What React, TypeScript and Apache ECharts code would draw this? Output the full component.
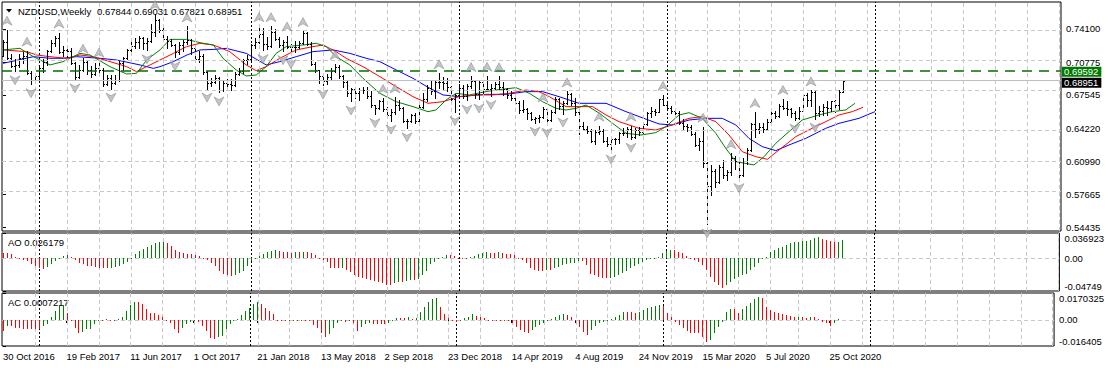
import React, { useEffect, useRef } from 'react';
import * as echarts from 'echarts';

// Weekly NZDUSD bars from 30 Oct 2016: [open, high, low, close]
const weeklyBars: number[][] = [
  [.7145,.7300,.7140,.7280],[.7280,.7403,.7110,.7120],[.7120,.7160,.7030,.7040],[.7040,.7110,.6990,.7050],
  [.7050,.7160,.7030,.7120],[.7120,.7180,.7070,.7140],[.7140,.7195,.6960,.6970],[.6970,.6990,.6862,.6900],
  [.6900,.6970,.6870,.6940],[.6940,.7030,.6890,.7020],[.7020,.7110,.6980,.7080],[.7080,.7200,.7050,.7190],
  [.7190,.7300,.7180,.7270],[.7270,.7340,.7240,.7320],[.7320,.7375,.7170,.7180],[.7180,.7240,.7140,.7200],
  [.7200,.7240,.7130,.7190],[.7190,.7220,.7060,.7070],[.7070,.7080,.6910,.6930],[.6930,.7050,.6920,.7000],
  [.7000,.7125,.6990,.7080],[.7080,.7100,.6960,.7000],[.7000,.7040,.6930,.6960],[.6960,.7070,.6950,.7020],
  [.7020,.7085,.6980,.7000],[.7000,.7020,.6840,.6860],[.6860,.6950,.6850,.6920],[.6920,.6950,.6818,.6870],
  [.6870,.6950,.6860,.6900],[.6900,.7090,.6890,.7070],[.7070,.7130,.7000,.7120],[.7120,.7210,.7110,.7200],
  [.7200,.7280,.7150,.7240],[.7240,.7320,.7220,.7280],[.7280,.7340,.7220,.7320],[.7320,.7330,.7210,.7270],
  [.7270,.7320,.7200,.7290],[.7290,.7460,.7280,.7380],[.7380,.7558,.7340,.7500],[.7500,.7510,.7380,.7400],
  [.7400,.7420,.7290,.7310],[.7310,.7340,.7220,.7290],[.7290,.7310,.7240,.7250],[.7250,.7260,.7130,.7180],
  [.7180,.7280,.7160,.7250],[.7250,.7300,.7190,.7280],[.7280,.7435,.7260,.7300],[.7300,.7310,.7160,.7220],
  [.7220,.7230,.7090,.7110],[.7110,.7190,.7080,.7140],[.7140,.7160,.6960,.6980],[.6980,.6990,.6818,.6870],
  [.6870,.6920,.6840,.6880],[.6880,.6950,.6870,.6920],[.6920,.6930,.6780,.6800],[.6800,.6900,.6790,.6870],
  [.6870,.6910,.6810,.6860],[.6860,.6910,.6800,.6850],[.6850,.6980,.6840,.6960],[.6960,.7020,.6950,.6990],
  [.6990,.7110,.6970,.7100],[.7100,.7150,.7060,.7110],[.7110,.7260,.7100,.7250],[.7250,.7320,.7220,.7280],
  [.7280,.7437,.7270,.7360],[.7360,.7420,.7200,.7260],[.7260,.7330,.7210,.7240],[.7240,.7438,.7230,.7380],
  [.7380,.7410,.7300,.7310],[.7310,.7330,.7230,.7250],[.7250,.7300,.7190,.7280],[.7280,.7345,.7220,.7230],
  [.7230,.7260,.7150,.7230],[.7230,.7290,.7180,.7230],[.7230,.7290,.7220,.7270],[.7270,.7390,.7260,.7370],
  [.7370,.7380,.7250,.7260],[.7260,.7280,.7050,.7060],[.7060,.7080,.6980,.7000],[.7000,.7000,.6870,.6940],
  [.6940,.6970,.6850,.6890],[.6890,.6960,.6860,.6930],[.6930,.7020,.6900,.6990],[.6990,.7060,.6980,.7030],
  [.7030,.7050,.6920,.6940],[.6940,.6950,.6830,.6880],[.6880,.6890,.6740,.6770],[.6770,.6820,.6690,.6810],
  [.6810,.6820,.6720,.6770],[.6770,.6820,.6700,.6800],[.6800,.6830,.6770,.6800],[.6800,.6830,.6720,.6740],
  [.6740,.6790,.6640,.6660],[.6660,.6660,.6565,.6630],[.6630,.6700,.6620,.6690],[.6690,.6725,.6600,.6620],
  [.6620,.6640,.6550,.6560],[.6560,.6620,.6500,.6590],[.6590,.6730,.6570,.6660],[.6660,.6700,.6610,.6630],
  [.6630,.6640,.6490,.6500],[.6500,.6520,.6424,.6500],[.6500,.6570,.6490,.6560],[.6560,.6580,.6480,.6500],
  [.6500,.6660,.6470,.6640],[.6640,.6770,.6630,.6710],[.6710,.6850,.6690,.6820],[.6820,.6890,.6760,.6790],
  [.6790,.6890,.6720,.6880],[.6880,.6970,.6820,.6880],[.6880,.6930,.6800,.6870],[.6870,.6920,.6790,.6830],
  [.6830,.6840,.6700,.6710],[.6710,.6760,.6585,.6750],[.6750,.6860,.6720,.6820],[.6820,.6850,.6720,.6740],
  [.6740,.6860,.6700,.6840],[.6840,.6942,.6820,.6890],[.6890,.6900,.6720,.6760],[.6760,.6890,.6710,.6880],
  [.6880,.6900,.6770,.6810],[.6810,.6945,.6800,.6810],[.6810,.6860,.6745,.6820],[.6820,.6880,.6800,.6860],
  [.6860,.6940,.6810,.6830],[.6830,.6880,.6750,.6810],[.6810,.6820,.6720,.6750],[.6750,.6790,.6700,.6720],
  [.6720,.6740,.6670,.6680],[.6680,.6690,.6580,.6610],[.6610,.6700,.6590,.6620],[.6620,.6630,.6520,.6580],
  [.6580,.6590,.6510,.6520],[.6520,.6540,.6480,.6530],[.6530,.6560,.6490,.6540],[.6540,.6640,.6530,.6620],
  [.6620,.6630,.6470,.6510],[.6510,.6610,.6500,.6590],[.6590,.6730,.6580,.6710],[.6710,.6720,.6620,.6650],
  [.6650,.6690,.6570,.6680],[.6680,.6790,.6670,.6760],[.6760,.6770,.6660,.6680],[.6680,.6720,.6560,.6590],
  [.6590,.6620,.6370,.6450],[.6450,.6490,.6410,.6420],[.6420,.6450,.6380,.6400],[.6400,.6420,.6290,.6300],
  [.6300,.6410,.6270,.6390],[.6390,.6450,.6370,.6400],[.6400,.6420,.6290,.6300],[.6300,.6340,.6250,.6270],
  [.6270,.6330,.6204,.6320],[.6320,.6330,.6270,.6320],[.6320,.6390,.6280,.6380],[.6380,.6430,.6360,.6380],
  [.6380,.6440,.6340,.6420],[.6420,.6450,.6320,.6340],[.6340,.6430,.6330,.6410],[.6410,.6440,.6360,.6390],
  [.6390,.6480,.6380,.6470],[.6470,.6590,.6460,.6580],[.6580,.6640,.6540,.6600],[.6600,.6620,.6560,.6590],
  [.6590,.6710,.6590,.6710],[.6710,.6756,.6660,.6660],[.6660,.6690,.6610,.6630],[.6630,.6650,.6580,.6600],
  [.6600,.6630,.6560,.6580],[.6580,.6600,.6470,.6480],[.6480,.6520,.6420,.6450],[.6450,.6470,.6400,.6440],
  [.6440,.6460,.6360,.6370],[.6370,.6390,.6250,.6260],[.6260,.6330,.6210,.6300],[.6300,.6440,.6040,.6080],
  [.6080,.6090,.5469,.5850],[.5850,.6060,.5760,.6000],[.6000,.6020,.5840,.5890],[.5890,.6060,.5880,.6040],
  [.6040,.6110,.5930,.5960],[.5960,.6010,.5910,.5990],[.5990,.6175,.5960,.6130],[.6130,.6150,.6020,.6100],
  [.6100,.6120,.5920,.5960],[.5960,.6130,.5950,.6100],[.6100,.6230,.6070,.6210],[.6210,.6480,.6200,.6470],
  [.6470,.6585,.6340,.6420],[.6420,.6480,.6380,.6440],[.6440,.6480,.6390,.6420],[.6420,.6520,.6410,.6490],
  [.6490,.6590,.6480,.6580],[.6580,.6600,.6530,.6550],[.6550,.6670,.6540,.6650],[.6650,.6715,.6620,.6630],
  [.6630,.6690,.6560,.6620],[.6620,.6630,.6540,.6580],[.6580,.6600,.6510,.6530],[.6530,.6640,.6520,.6600],
  [.6600,.6760,.6600,.6750],[.6750,.6770,.6650,.6700],[.6700,.6800,.6650,.6780],[.6780,.6790,.6520,.6580],
  [.6580,.6650,.6550,.6600],[.6600,.6670,.6560,.6640],[.6640,.6690,.6560,.6630],[.6630,.6690,.6600,.6690],
  [.6690,.6700,.6590,.6660],[.6660,.6800,.6620,.67844],[.67844,.69031,.67821,.68951],
];

// Alligator lines: [bar index, price]
const jawBlue: number[][] = [
  [0,.7069],[7.6,.7135],[11.75,.7119],[15,.7119],[18.4,.7135],[24.25,.7119],[28.4,.7102],[34.25,.7053],
  [37.6,.7019],[39.25,.7036],[42.6,.7086],[46,.7152],[49.25,.7202],[53,.7208],[55.8,.7218],[60.8,.7168],
  [65.8,.7053],[69.2,.7086],[73.3,.7135],[77.5,.7185],[82.5,.7202],[86.7,.7168],[90.8,.7119],[94.2,.7086],
  [98.3,.7003],[102.5,.6920],[106.25,.6831],[110,.6755],[114,.6738],[120.75,.6761],[125.75,.6761],
  [130.75,.6788],[134.9,.6788],[139,.6738],[144,.6672],[150.75,.6672],[155.75,.6589],[159.5,.6533],
  [164,.6467],[167.3,.6457],[171.5,.6506],[175.7,.6523],[179.8,.6523],[183.2,.6457],[186.5,.6324],
  [189.8,.6242],[193.2,.6202],[196.5,.6258],[200.7,.6324],[205.7,.6424],[209,.6473],[214,.6523],[218,.6589],
];
const teethRed: number[][] = [
  [0,.7202],[5.9,.7185],[8.4,.7152],[11.75,.7135],[15.9,.7119],[19.25,.7152],[22.6,.7135],[26.75,.7086],
  [30.9,.7036],[33.4,.6986],[35.9,.7036],[39.25,.7102],[42.6,.7168],[45.9,.7235],[49.25,.7268],[52.6,.7251],
  [56.7,.7185],[60.8,.7053],[63.3,.6996],[65.8,.7036],[69.2,.7119],[73.3,.7202],[77.5,.7235],[80,.7251],
  [83.3,.7185],[85.8,.7119],[90,.7036],[94.2,.6937],[98.3,.6837],[102.5,.6738],[106.25,.6672],[110,.6688],
  [114,.6738],[118.25,.6755],[122.4,.6755],[126.6,.6771],[130.75,.6804],[134,.6788],[136.6,.6738],
  [140.75,.6639],[144,.6639],[147.4,.6639],[150.75,.6556],[154,.6490],[159,.6424],[163.2,.6407],
  [167.3,.6457],[171.5,.6523],[174.8,.6540],[178.2,.6490],[181.5,.6357],[184.8,.6192],[188.2,.6142],
  [191.1,.6116],[194,.6209],[198.2,.6341],[202.3,.6424],[205.7,.6490],[209,.6556],[212.3,.6589],[215,.6632],
];
const lipsGreen: number[][] = [
  [0,.7202],[4.25,.7218],[7.6,.7135],[11.75,.7053],[15,.7086],[19.25,.7168],[21.75,.7152],[26.75,.7036],
  [30.9,.6963],[33.4,.6970],[35.9,.7102],[39.25,.7202],[41.75,.7307],[45.9,.7307],[49.25,.7274],[52.6,.7251],
  [55,.7119],[58.3,.7003],[60.8,.6943],[63.3,.6953],[65.8,.7036],[68.3,.7168],[70.8,.7235],[75,.7251],
  [78.3,.7268],[80.8,.7235],[83.3,.7135],[86.7,.7053],[90,.6920],[94.2,.6771],[98.3,.6688],[102.5,.6639],
  [106.25,.6589],[108.25,.6606],[110.75,.6705],[113.25,.6771],[116.6,.6755],[120.75,.6788],[123.25,.6804],
  [128.25,.6827],[131.6,.6771],[134.9,.6688],[138.25,.6622],[140.75,.6606],[143.25,.6622],[145.75,.6655],
  [149.1,.6573],[152.4,.6473],[155.75,.6374],[159.5,.6357],[163.2,.6381],[165.7,.6440],[169,.6556],
  [171.5,.6579],[174.8,.6523],[178.2,.6374],[180.7,.6225],[183.2,.6093],[187.75,.6060],[190.25,.6142],
  [193.2,.6275],[196.5,.6391],[199.8,.6506],[204,.6556],[207.3,.6589],[210.7,.6606],[213,.6672],
];

const upFractals = [1,6,14,20,24,38,46,64,67,71,75,83,95,98,109,117,121,124,135,141,149,157,165,175,182,188,195,202];
const downFractals = [3,7,18,27,36,43,51,54,65,70,72,80,87,93,97,101,113,116,119,122,133,136,140,152,157,176,184,198,203];

const aoValues = [
  .0084,.0084,.0059,.0020,-.0010,-.0020,-.0039,-.0079,-.0104,-.0138,-.0148,-.0128,-.0079,-.0039,.0010,.0035,
  .0044,.0020,-.0020,-.0069,-.0089,-.0104,-.0118,-.0128,-.0138,-.0143,-.0143,-.0138,-.0128,-.0113,-.0089,-.0054,
  -.0010,.0059,.0108,.0143,.0168,.0192,.0217,.0237,.0240,.0217,.0182,.0128,.0089,.0079,.0069,.0059,
  .0044,.0030,-.0005,-.0030,-.0069,-.0108,-.0177,-.0227,-.0247,-.0250,-.0237,-.0217,-.0177,-.0118,-.0039,-.0010,
  .0039,.0069,.0089,.0108,.0118,.0108,.0099,.0089,
  .0083,.0088,.0088,.0098,.0088,.0074,.0049,.0010,-.0025,-.0049,-.0137,-.0147,-.0147,-.0137,-.0172,-.0196,
  -.0245,-.0270,-.0284,-.0294,-.0319,-.0333,-.0343,-.0353,-.0382,-.0392,-.0353,-.0343,-.0343,-.0333,-.0319,-.0319,
  -.0294,-.0245,-.0186,-.0088,-.0049,-.0015,.0015,.0049,.0049,.0034,-.0010,-.0010,.0000,.0015,.0039,.0059,
  .0083,.0088,.0083,.0083,.0088,.0083,.0069,.0059,.0049,-.0015,-.0029,-.0064,-.0137,-.0172,-.0181,-.0181,
  -.0172,-.0172,-.0147,-.0123,-.0098,-.0088,-.0074,-.0064,-.0034,-.0039,-.0098,-.0221,-.0245,-.0270,-.0284,-.0284,
  -.0279,-.0270,-.0245,-.0206,-.0186,-.0147,-.0108,-.0088,-.0049,-.0025,-.0015,.0005,.0025,.0074,.0108,.0123,
  .0123,.0098,.0074,.0039,.0010,-.0025,-.0049,-.0098,-.0172,-.0270,-.0343,-.0392,-.0431,-.0392,-.0343,-.0294,
  -.0270,-.0245,-.0221,-.0172,-.0123,-.0074,-.0015,.0025,.0098,.0123,.0147,.0172,.0196,.0221,.0235,.0245,
  .0255,.0260,.0270,.0294,.0304,.0284,.0270,.0250,.0240,.0245,.026179,
];

const acValues = [
  -.0069,-.0038,-.0038,-.0048,-.0050,-.0055,-.0055,-.0055,-.0055,-.0055,-.0038,-.0027,.0021,.0057,.0088,.0092,
  .0046,-.0006,-.0048,-.0084,-.0076,-.0059,-.0055,-.0027,.0002,.0002,.0004,-.0006,.0001,.0004,.0021,.0057,
  .0092,.0113,.0113,.0099,.0071,.0042,.0042,.0029,.0021,.0000,-.0017,-.0059,-.0080,-.0048,-.0027,-.0013,
  .0000,-.0013,-.0038,-.0069,-.0111,-.0118,-.0105,-.0101,-.0059,-.0027,-.0006,.0008,.0029,.0057,.0078,.0099,
  .0113,.0099,.0078,.0057,.0036,.0000,-.0006,-.0006,
  -.0004,-.0004,.0000,.0000,.0000,-.0004,-.0031,-.0052,-.0084,-.0105,-.0088,-.0052,-.0021,-.0006,-.0010,-.0004,
  -.0021,-.0067,-.0042,-.0025,-.0021,-.0025,-.0025,-.0025,-.0025,-.0021,.0002,.0010,.0010,.0010,.0017,.0004,
  .0010,.0052,.0084,.0115,.0130,.0136,.0084,.0038,.0010,-.0004,-.0010,-.0004,.0010,.0021,.0038,.0025,
  .0017,.0010,.0000,.0000,.0000,.0000,.0000,-.0004,-.0021,-.0042,-.0063,-.0073,-.0080,-.0063,-.0042,-.0031,
  -.0021,.0000,.0004,.0017,.0031,.0038,.0031,.0021,.0000,-.0042,-.0073,-.0094,-.0063,-.0038,-.0021,-.0010,
  .0000,.0004,.0017,.0031,.0052,.0052,.0052,.0046,.0052,.0063,.0073,.0084,.0088,.0094,.0088,.0042,
  .0021,-.0010,-.0031,-.0052,-.0067,-.0080,-.0080,-.0084,-.0105,-.0136,-.0125,-.0084,-.0042,-.0010,.0052,.0067,
  .0067,.0046,.0067,.0088,.0105,.0130,.0146,.0136,.0084,.0063,.0052,.0046,.0038,.0031,.0025,.0017,
  .0021,.0017,.0010,.0021,.0017,.0004,-.0010,-.0021,-.0038,-.0021,.0007217,
];

const dateLabels = ['30 Oct 2016','19 Feb 2017','11 Jun 2017','1 Oct 2017','21 Jan 2018','13 May 2018','2 Sep 2018',
  '23 Dec 2018','14 Apr 2019','4 Aug 2019','24 Nov 2019','15 Mar 2020','5 Jul 2020','25 Oct 2020'];
const dateLabelStep = 16;
const priceTicks = [0.741, 0.70775, 0.67545, 0.6422, 0.6099, 0.57665, 0.54435];
const aoTicks = [0.036923, 0, -0.04749];
const acTicks = [0.0170325, 0, -0.016405];
const yearSeparators = [9, 62, 114, 166, 218];
const gridStep = 8;
const levelPrice = 0.69592;
const bidPrice = 0.68951;

const FONT = 'Liberation Sans, Arial, sans-serif';
const FS = 9.5;
const X_MIN = -0.25, X_MAX = 264.5;

function fmtTick(v: number) {
  if (v === 0) return '0.00';
  return String(v);
}

export default function App() {
  const ref = useRef<HTMLDivElement>(null);
  useEffect(() => {
    if (!ref.current) return;
    const chart = echarts.init(ref.current, undefined, { renderer: 'svg' });

    const vGrid: number[] = [];
    for (let v = gridStep; v < X_MAX; v += gridStep) vGrid.push(v + 0.125);
    const dateTicks = dateLabels.map((_, k) => k * dateLabelStep);

    const gridLineStyle = { color: '#c8c8c8', type: [4, 3] as any, width: 1 };
    const sepStyle = { color: '#000', type: [2, 2] as any, width: 1 };
    const vLines = vGrid.map((v) => ({ xAxis: v, lineStyle: gridLineStyle }));
    const sepLines = yearSeparators.map((v) => ({ xAxis: v + 0.125, lineStyle: sepStyle }));

    const helper = (idx: number, hLines: number[]) => ({
      type: 'line', xAxisIndex: idx, yAxisIndex: idx, data: [], z: 1, silent: true,
      markLine: {
        silent: true, symbol: ['none', 'none'], label: { show: false }, animation: false,
        data: [...vLines, ...hLines.map((v) => ({ yAxis: v, lineStyle: gridLineStyle })), ...sepLines],
      },
    });

    const aoColors = aoValues.map((v, i) => (i > 0 && v > aoValues[i - 1]) || (i === 0 && v > 0.009) ? '#008000' : '#ff0000');
    const acColors = acValues.map((v, i) => (i > 0 && v > acValues[i - 1]) ? '#008000' : '#ff0000');

    const histo = (idx: number, values: number[], colors: string[]) => ({
      type: 'custom', xAxisIndex: idx, yAxisIndex: idx, z: 5, clip: true,
      data: values.map((v, i) => [i, v]),
      encode: { x: 0, y: 1 },
      renderItem: (params: any, api: any) => {
        const i = api.value(0), v = api.value(1);
        const p0 = api.coord([i, 0]);
        const p1 = api.coord([i, v]);
        const x = Math.round(p0[0]);
        const y0 = Math.round(p0[1]);
        const y1 = Math.round(p1[1]);
        return {
          type: 'rect',
          shape: { x, y: Math.min(y0, y1), width: 1, height: Math.max(1, Math.abs(y1 - y0)) },
          style: { fill: colors[params.dataIndex] },
        };
      },
    });

    const fractalStyle = { color: '#b4b6bc', borderColor: '#7c7e84', borderWidth: 0.6 };

    const yLabel = { color: '#000', fontSize: FS, fontFamily: FONT, margin: 5 };
    const tagLabel = { show: true, position: 'end', color: '#fff', padding: [0, 3, 0, 2], lineHeight: 10,
      fontSize: FS, fontFamily: FONT, distance: 1 };

    const option: any = {
      animation: false,
      backgroundColor: '#fff',
      grid: [
        { left: 2, top: 2, width: 1059, height: 229, show: true, borderColor: '#000', borderWidth: 1, backgroundColor: 'transparent' },
        { left: 2, top: 233, width: 1059, height: 58, show: true, borderColor: '#000', borderWidth: 1, backgroundColor: 'transparent' },
        { left: 2, top: 293, width: 1059, height: 53, show: true, borderColor: '#000', borderWidth: 1, backgroundColor: 'transparent' },
      ],
      xAxis: [0, 1, 2].map((g) => ({
        type: 'value', gridIndex: g, min: X_MIN, max: X_MAX,
        axisLine: { show: false }, splitLine: { show: false },
        axisTick: g === 2 ? { show: true, customValues: dateTicks, length: 3, lineStyle: { color: '#000' } } : { show: false },
        axisLabel: g === 2 ? {
          show: true, customValues: dateTicks, align: 'left', margin: 5,
          color: '#000', fontSize: FS, fontFamily: FONT,
          formatter: (v: number) => dateLabels[Math.round(v / dateLabelStep)] ?? '',
        } : { show: false },
      })),
      yAxis: [
        {
          type: 'value', gridIndex: 0, position: 'right', min: 0.5404, max: 0.7678,
          axisLine: { show: false }, splitLine: { show: false },
          axisTick: { show: true, customValues: priceTicks, length: 3, lineStyle: { color: '#000' } },
          axisLabel: { ...yLabel, customValues: priceTicks, formatter: (v: number) => v.toFixed(5) },
        },
        {
          type: 'value', gridIndex: 1, position: 'right', min: aoTicks[2], max: aoTicks[0],
          axisLine: { show: false }, splitLine: { show: false },
          axisTick: { show: true, customValues: aoTicks, length: 3, lineStyle: { color: '#000' } },
          axisLabel: { ...yLabel, customValues: aoTicks, formatter: fmtTick, verticalAlignMaxLabel: 'bottom', verticalAlignMinLabel: 'top' },
        },
        {
          type: 'value', gridIndex: 2, position: 'right', min: acTicks[2], max: acTicks[0],
          axisLine: { show: false }, splitLine: { show: false },
          axisTick: { show: true, customValues: acTicks, length: 3, lineStyle: { color: '#000' } },
          axisLabel: { ...yLabel, customValues: acTicks, formatter: fmtTick, verticalAlignMaxLabel: 'bottom', verticalAlignMinLabel: 'top' },
        },
      ],
      graphic: [
        { type: 'polygon', shape: { points: [[6, 9], [12, 9], [9, 12.5]] }, style: { fill: '#000' } },
        { type: 'text', x: 18, y: 11, style: { text: 'NZDUSD,Weekly', fill: '#000', font: `${FS}px ${FONT}`, verticalAlign: 'middle' } },
        { type: 'text', x: 97, y: 11, style: { text: '0.67844 0.69031 0.67821 0.68951', fill: '#000', font: `${FS}px ${FONT}`, verticalAlign: 'middle' } },
        { type: 'text', x: 8, y: 242, style: { text: 'AO 0.026179', fill: '#000', font: `${FS}px ${FONT}`, verticalAlign: 'middle' } },
        { type: 'text', x: 8, y: 302, style: { text: 'AC 0.0007217', fill: '#000', font: `${FS}px ${FONT}`, verticalAlign: 'middle' } },
      ],
      series: [
        helper(0, priceTicks),
        helper(1, [0]),
        helper(2, [0]),
        {
          type: 'line', xAxisIndex: 0, yAxisIndex: 0, data: [], z: 2, silent: true,
          markLine: {
            silent: true, symbol: ['none', 'none'], animation: false,
            data: [
              {
                yAxis: bidPrice, lineStyle: { color: '#c0c0c0', type: 'solid', width: 1 },
                label: { ...tagLabel, formatter: '0.68951', backgroundColor: '#000', offset: [0, 2.5] },
              },
              {
                yAxis: levelPrice, lineStyle: { color: '#007000', type: [10, 7], width: 1.5 },
                label: { ...tagLabel, formatter: '0.69592', backgroundColor: '#007a00', offset: [0, 1.5] },
              },
            ],
          },
        },
        {
          type: 'line', xAxisIndex: 0, yAxisIndex: 0, data: jawBlue, showSymbol: false, z: 3,
          lineStyle: { color: '#0000ff', width: 1 }, silent: true,
        },
        {
          type: 'line', xAxisIndex: 0, yAxisIndex: 0, data: teethRed, showSymbol: false, z: 3,
          lineStyle: { color: '#ff0000', width: 1 }, silent: true,
        },
        {
          type: 'line', xAxisIndex: 0, yAxisIndex: 0, data: lipsGreen, showSymbol: false, z: 3,
          lineStyle: { color: '#008000', width: 1 }, silent: true,
        },
        {
          type: 'custom', xAxisIndex: 0, yAxisIndex: 0, z: 4, clip: true,
          data: weeklyBars.map((b, i) => [i, b[0], b[1], b[2], b[3]]),
          encode: { x: 0, y: [1, 2, 3, 4] },
          renderItem: (params: any, api: any) => {
            const i = api.value(0);
            const ph = api.coord([i, api.value(2)]);
            const pl = api.coord([i, api.value(3)]);
            const po = api.coord([i, api.value(1)]);
            const pc = api.coord([i, api.value(4)]);
            const x = Math.round(ph[0]);
            const yt = Math.round(ph[1]);
            const yb = Math.round(pl[1]);
            return {
              type: 'group',
              children: [
                { type: 'rect', shape: { x, y: yt, width: 1, height: Math.max(1, yb - yt + 1) }, style: { fill: '#000' } },
                { type: 'rect', shape: { x: x - 1, y: Math.round(po[1]), width: 1, height: 1 }, style: { fill: '#000' } },
                { type: 'rect', shape: { x: x + 1, y: Math.round(pc[1]), width: 1, height: 1 }, style: { fill: '#000' } },
              ],
            };
          },
        },
        {
          type: 'scatter', xAxisIndex: 0, yAxisIndex: 0, z: 6, silent: true,
          data: upFractals.map((i) => [i, weeklyBars[i][1]]),
          symbol: 'path://M5 0 L10 10 L5 7 L0 10 Z', symbolSize: [10, 9], symbolOffset: [0, -9],
          itemStyle: fractalStyle,
        },
        {
          type: 'scatter', xAxisIndex: 0, yAxisIndex: 0, z: 6, silent: true,
          data: downFractals.map((i) => [i, weeklyBars[i][2]]),
          symbol: 'path://M0 0 L5 3 L10 0 L5 10 Z', symbolSize: [10, 9], symbolOffset: [0, 9],
          itemStyle: fractalStyle,
        },
        histo(1, aoValues, aoColors),
        histo(2, acValues, acColors),
      ],
    };
    chart.setOption(option);
    return () => chart.dispose();
  }, []);
  return <div ref={ref} style={{ position: 'fixed', left: 0, top: 0, width: 1107, height: 368, background: '#fff' }} />;
}
